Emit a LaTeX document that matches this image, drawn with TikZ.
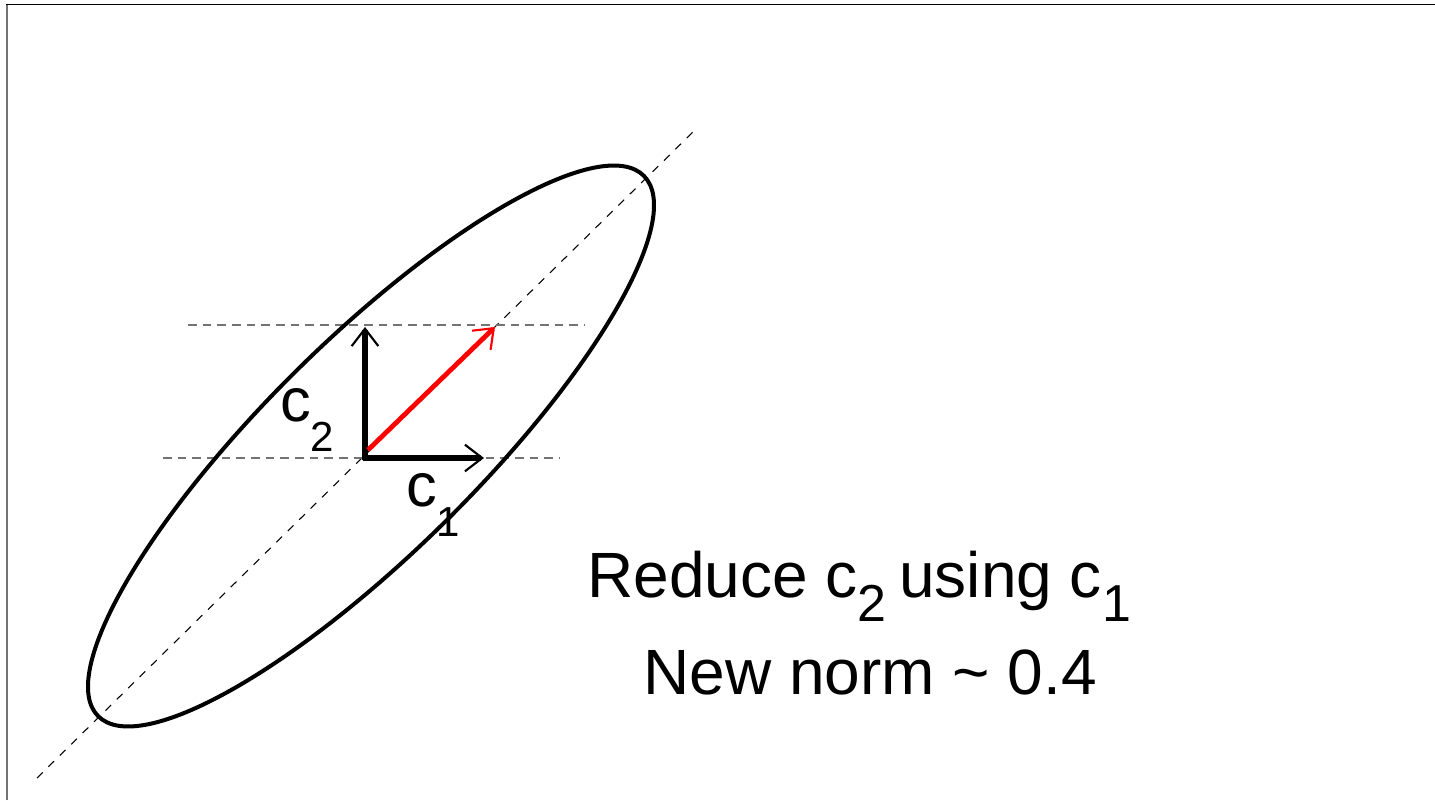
\documentclass[tikz,border=0pt]{standalone}
\usepackage{fontspec}
\setmainfont{Liberation Sans}
\usetikzlibrary{arrows.meta}
\newcommand\lsub[1]{\raisebox{-18pt}{\fontsize{39}{39}\selectfont #1}}
\newcommand\vsub[1]{\raisebox{-22.5pt}{\fontsize{31.5}{32}\selectfont #1}}
\begin{document}
\begin{tikzpicture}[x=0.75pt,y=0.75pt,
  diag/.style={black, line width=0.8pt, dash pattern=on 6pt off 6pt},
  hguide/.style={black!55, line width=0.9pt, dash pattern=on 6.5pt off 4.5pt},
  vecarrow/.style={line width=4pt, -{Straight Barb[length=13pt,width=20pt,line width=1.6pt]}},
  lab/.style={anchor=base west, inner sep=0pt, font=\fontsize{48}{58}\selectfont},
  veclab/.style={anchor=base west, inner sep=0pt, font=\fontsize{46}{56}\selectfont}]
\useasboundingbox (0,0) rectangle (1435,800);
% frame edges
\draw[black!55, line width=1.5pt] (7,0) -- (7,795.5);
\draw[black, line width=1.2pt] (6.3,795.5) -- (1435,795.5);
% guides
\coordinate (d1) at (37,22);
\coordinate (d2) at (697,672);
\draw[diag] (d1) -- (d2);
\coordinate (h1a) at (188,475);
\coordinate (h1b) at (585,475);
\coordinate (h2a) at (163,342);
\coordinate (h2b) at (560,342);
\draw[hguide] (h1a) -- (h1b);
\draw[hguide] (h2a) -- (h2b);
% ellipse
\coordinate (C) at (371,354);
\draw[line width=3pt, rotate around={44.7:(C)}] (C) ellipse [x radius=288pt, y radius=79.5pt];
% vectors
\coordinate (O) at (365,340);
\coordinate (E1) at (484,342);
\coordinate (E2) at (365,473);
\coordinate (O1) at (363,342);
\draw[vecarrow] (O1) -- (E1);
\draw[vecarrow] (O) -- (E2);
\coordinate (R0) at (368,350);
\coordinate (R1) at (495,473);
\draw[vecarrow, red, line width=3.6pt] (R0) -- (R1);
% labels
\node[veclab] (c2lab) at (280,378) {c\vsub{2}};
\node[veclab] (c1lab) at (406,293) {c\vsub{1}};
\node[lab] (t1) at (587,202) {Reduce c\lsub{2}\hspace{-0.08em} using c\lsub{1}};
\node[lab] (t2) at (643,105) {New norm \textasciitilde{} 0.4};
\end{tikzpicture}
\end{document}
